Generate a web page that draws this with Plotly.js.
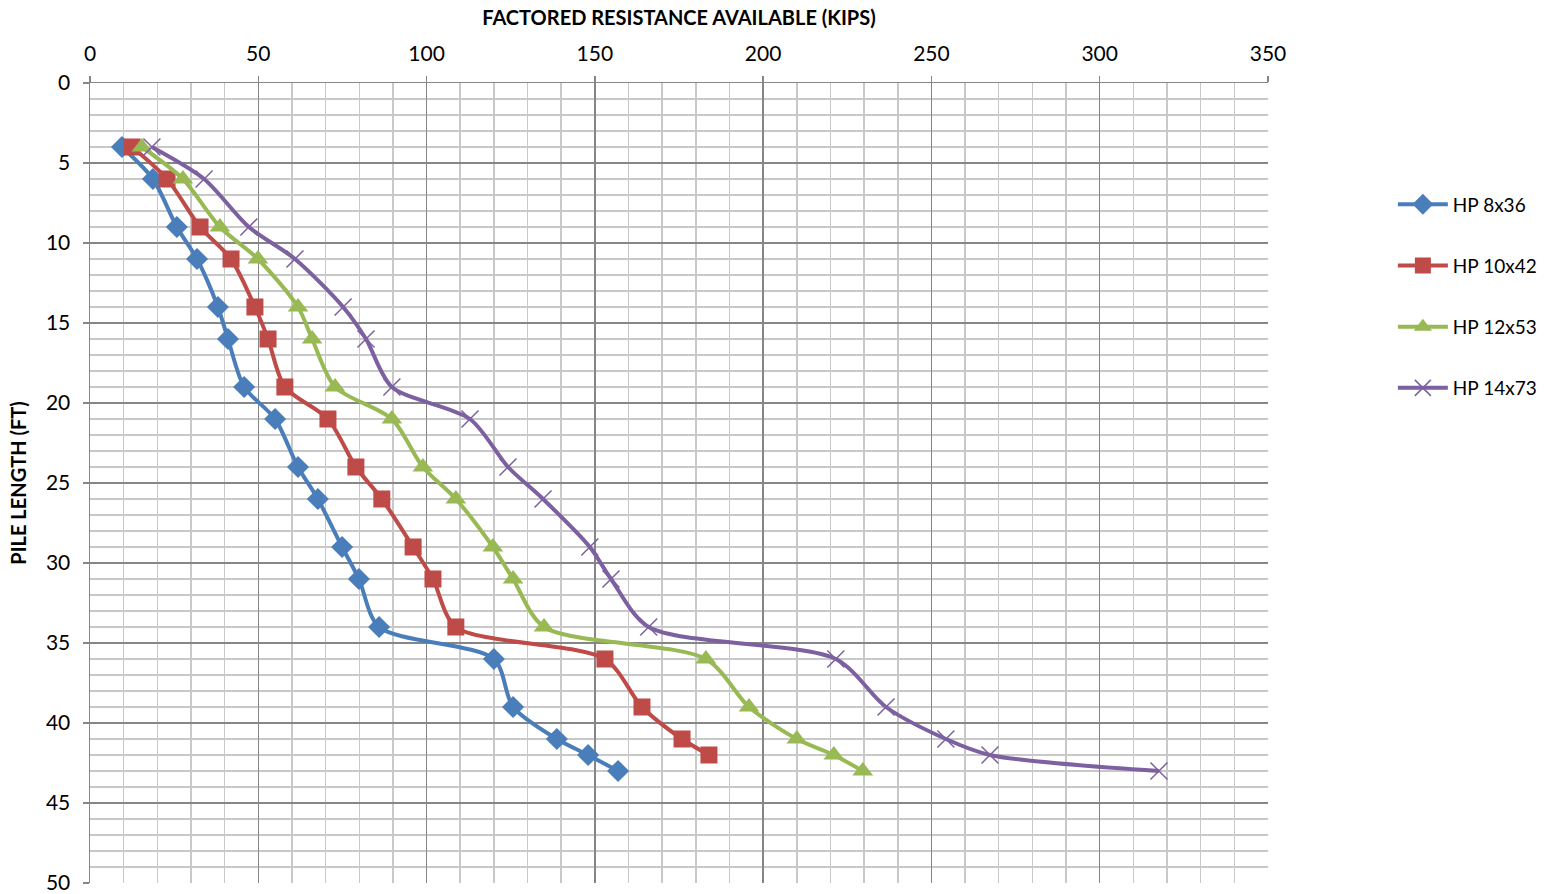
<!DOCTYPE html>
<html>
<head>
<meta charset="utf-8">
<script src="https://cdn.plot.ly/plotly-3.0.1.min.js"></script>
<style>html,body{margin:0;padding:0;background:#fff;}#chart{width:1551px;height:894px;}</style>
</head>
<body>
<div id="chart"></div>
<script>
const pileLength = [4, 6, 9, 11, 14, 16, 19, 21, 24, 26, 29, 31, 34, 36, 39, 41, 42, 43];
const pileLength42 = [4, 6, 9, 11, 14, 16, 19, 21, 24, 26, 29, 31, 34, 36, 39, 41, 42];
const hp8x36 = [9.5, 18.7, 25.8, 31.8, 38.0, 41.0, 45.8, 55.0, 61.8, 67.7, 74.9, 79.9, 85.9, 120.0, 125.7, 138.7, 148.0, 156.9];
const hp10x42 = [12.5, 22.9, 32.7, 41.9, 49.0, 52.9, 57.9, 70.7, 79.0, 86.7, 96.0, 101.9, 108.7, 153.0, 164.0, 175.9, 183.9];
const hp12x53 = [15.4, 27.6, 38.6, 49.9, 61.8, 66.0, 72.8, 89.7, 98.9, 108.7, 119.7, 125.7, 134.9, 183.0, 195.8, 210.0, 221.0, 229.6];
const hp14x73 = [18.4, 33.9, 47.2, 60.9, 75.2, 82.0, 89.7, 112.9, 124.2, 134.6, 148.5, 154.8, 166.0, 221.6, 236.5, 254.3, 267.4, 317.6];
const seriesNames = ['HP 8x36', 'HP 10x42', 'HP 12x53', 'HP 14x73'];
const xTicks = [0, 50, 100, 150, 200, 250, 300, 350];
const yTicks = [0, 5, 10, 15, 20, 25, 30, 35, 40, 45, 50];

const colors = ['#4a7ebb', '#be4b48', '#98b954', '#7d60a0'];
const symbols = ['diamond', 'square', 'triangle-up', 'x-thin-open'];
const sizes = [17, 17, 18, 17];
const xs = [hp8x36, hp10x42, hp12x53, hp14x73];
const ys = [pileLength, pileLength42, pileLength, pileLength];

const traces = xs.map((x, i) => ({
  type: 'scatter', mode: 'lines+markers',
  x: x, y: ys[i], name: seriesNames[i],
  legendgroup: 'g' + i,
  line: {color: colors[i], width: 4, shape: 'spline', smoothing: 0.8},
  marker: {symbol: symbols[i], size: sizes[i], color: colors[i],
           line: {color: colors[i], width: i === 3 ? 1.5 : 0}}
}));

const font = 'Lato, "Open Sans", sans-serif';
const layout = {
  width: 1551, height: 894,
  margin: {l: 90, r: 283, t: 83, b: 11, autoexpand: false},
  paper_bgcolor: '#fff', plot_bgcolor: '#fff',
  showlegend: true,
  legend: {x: 1.106, y: 0.872, xanchor: 'left', yanchor: 'top',
           font: {family: font, size: 19, color: '#000'},
           traceorder: 'grouped', tracegroupgap: 33.5, itemwidth: 50},
  xaxis: {
    side: 'top', range: [0, 350], tickvals: xTicks,
    title: {text: 'FACTORED RESISTANCE AVAILABLE (KIPS)', font: {family: font, size: 20, color: '#000', weight: 'bold'}, standoff: 9},
    tickfont: {family: font, size: 21, color: '#000'},
    ticklabelstandoff: 6, ticklabeloverflow: 'allow',
    ticks: 'outside', ticklen: 6, tickcolor: '#868686', tickwidth: 1.5,
    showline: true, linecolor: '#868686', linewidth: 1.5,
    showgrid: true, gridcolor: '#868686', gridwidth: 1.5,
    minor: {dtick: 10, showgrid: true, gridcolor: '#c8c8c8', gridwidth: 1.5},
    zeroline: false, fixedrange: true, automargin: false
  },
  yaxis: {
    autorange: false, range: [50, 0], tickvals: yTicks,
    title: {text: 'PILE LENGTH (FT)', font: {family: font, size: 20, color: '#000', weight: 'bold'}, standoff: 14},
    tickfont: {family: font, size: 21, color: '#000'},
    ticklabelstandoff: 8, ticklabeloverflow: 'allow',
    ticks: 'outside', ticklen: 6, tickcolor: '#868686', tickwidth: 1.5,
    showline: true, linecolor: '#868686', linewidth: 1.5,
    showgrid: true, gridcolor: '#868686', gridwidth: 1.5,
    minor: {dtick: 1, showgrid: true, gridcolor: '#c8c8c8', gridwidth: 1.5},
    zeroline: false, fixedrange: true, automargin: false
  }
};
Plotly.newPlot('chart', traces, layout, {displayModeBar: false, staticPlot: true});
</script>
</body>
</html>
